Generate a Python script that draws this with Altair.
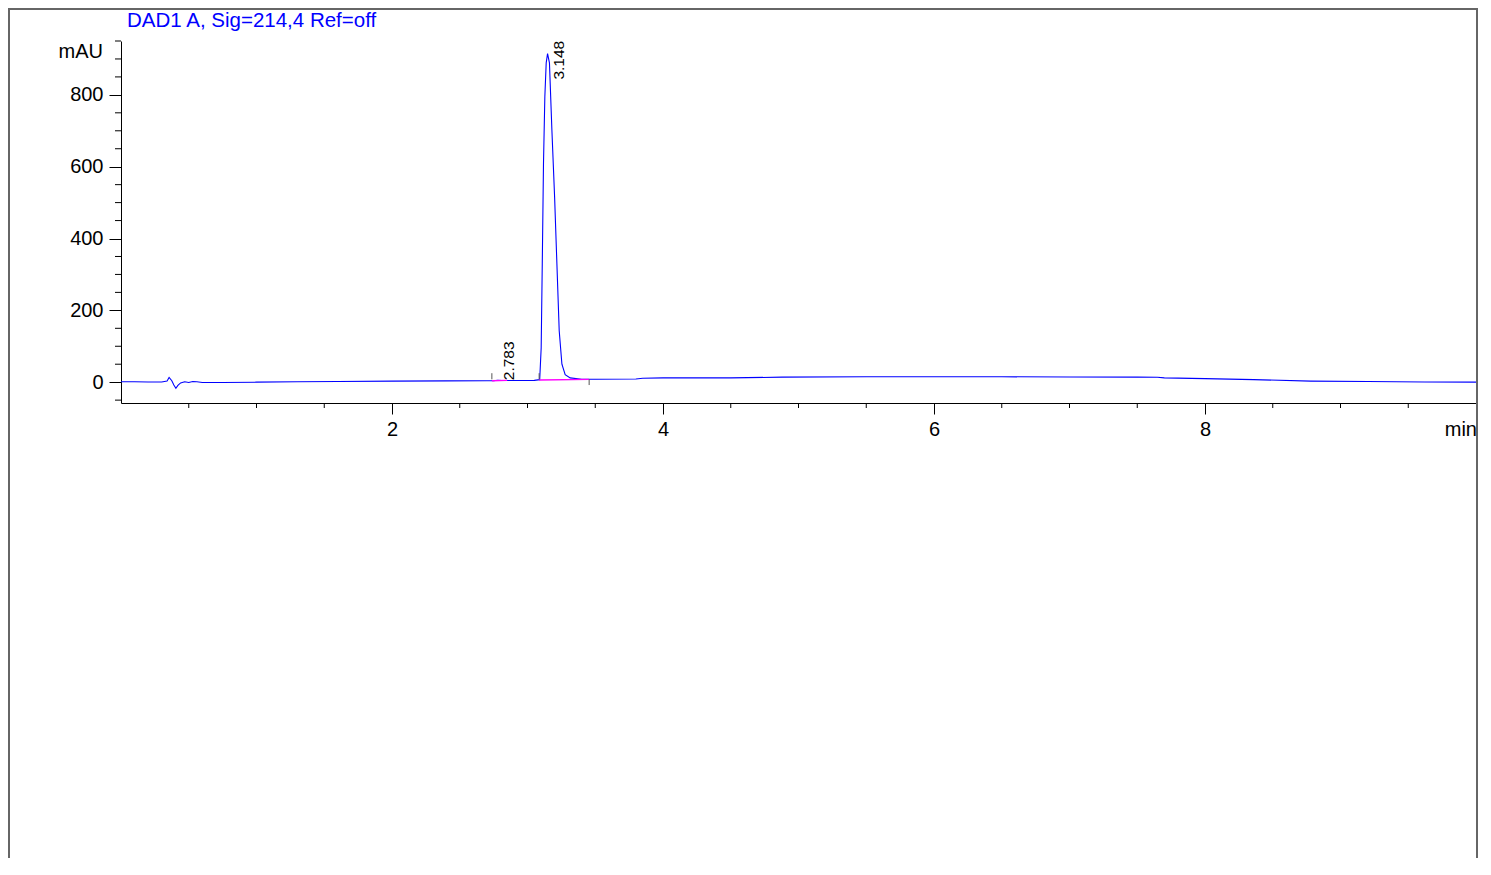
import altair as alt
import pandas as pd

# ---- chromatogram trace (min, mAU) ----
TIME = [0.00, 0.10, 0.20, 0.30, 0.34, 0.355, 0.375, 0.39, 0.405, 0.42, 0.44, 0.47,
        0.50, 0.53, 0.56, 0.60, 0.75, 1.00, 1.30, 1.60, 2.00, 2.40, 2.70, 2.75,
        2.78, 2.81, 2.90, 3.05, 3.09, 3.101, 3.109, 3.118, 3.128, 3.138, 3.148,
        3.162, 3.180, 3.200, 3.217, 3.234, 3.254, 3.278, 3.315, 3.40, 3.50, 3.80,
        3.85, 4.00, 4.50, 4.88, 5.50, 6.00, 6.50, 7.00, 7.50, 7.65, 7.70, 8.00,
        8.36, 8.78, 9.20, 9.62, 10.00]
SIGNAL = [1, 1, 0.5, 0.5, 3, 13, 4, -8, -17, -9, -2, 1,
          -1, 2, 1, -1, -1, 0, 1, 2, 3, 3.5, 4, 4,
          5.5, 4.5, 4.5, 5, 7, 96, 330, 609, 795, 889, 915,
          889, 702, 516, 329, 143, 50, 21, 12, 8, 8, 9,
          11, 12, 12, 14, 15, 15, 15, 14.5, 14, 13.5, 12, 10,
          7, 3, 2, 0.5, 0]

# ---- axes ----
X_LABEL_TICKS = [2, 4, 6, 8]
X_MINOR_TICKS = [0.5, 1, 1.5, 2.5, 3, 3.5, 4.5, 5, 5.5, 6.5, 7, 7.5, 8.5, 9, 9.5]
Y_LABEL_TICKS = [0, 200, 400, 600, 800]
Y_MINOR_TICKS = [-50, 50, 100, 150, 250, 300, 350, 450, 500, 550, 650, 700, 750, 850, 900, 950]
X_DOMAIN = [0, 10]
Y_DOMAIN = [-58, 950]

# ---- peak annotations ----
PEAK_RT = [2.783, 3.148]
PEAK_HEIGHT = [5.5, 915]
PEAK_TEXT = ["2.783", "3.148"]

# ---- integration events ----
EVENT_T = [2.737, 3.086, 3.455]
EVENT_LO = [8, 8, -8]
EVENT_HI = [25, 25, 8]
BASE_T0 = [2.737, 3.086]
BASE_T1 = [2.85, 3.455]
BASE_V0 = [4, 6]
BASE_V1 = [5, 8]

TITLE = "DAD1 A, Sig=214,4 Ref=off"
FONT = "Liberation Sans"
W, H = 1355, 362

xs = alt.Scale(domain=X_DOMAIN, nice=False, zero=False)
ys = alt.Scale(domain=Y_DOMAIN, nice=False, zero=False)
XAX = alt.Axis(values=X_LABEL_TICKS, tickSize=11, labelFontSize=20,
               labelPadding=5, title=None, format="d", grid=False,
               domainColor="black", tickColor="black", labelColor="black",
               labelFont=FONT, domainWidth=1, tickWidth=1)
YAX = alt.Axis(values=Y_LABEL_TICKS, tickSize=12, labelFontSize=20,
               labelPadding=6, title=None, format="d", grid=False,
               domainColor="black", tickColor="black", labelColor="black",
               labelFont=FONT, domainWidth=1, tickWidth=1)


def X(field):
    return alt.X(field, scale=xs, axis=XAX, title=None)


def Y(field):
    return alt.Y(field, scale=ys, axis=YAX, title=None)


trace = pd.DataFrame({"t": TIME, "v": SIGNAL})
one = alt.Data(values=[{}])

line = alt.Chart(trace).mark_line(color="#0000ff", strokeWidth=1.1).encode(
    x=X("t:Q"), y=Y("v:Q"))

x_minor = alt.Chart(pd.DataFrame({"t": X_MINOR_TICKS})).mark_rule(
    color="black", strokeWidth=1).encode(
    x=X("t:Q"), y=alt.value(H), y2=alt.value(H + 5))

y_minor = alt.Chart(pd.DataFrame({"v": Y_MINOR_TICKS})).mark_rule(
    color="black", strokeWidth=1).encode(
    y=Y("v:Q"), x=alt.value(0), x2=alt.value(-6))

base_df = pd.DataFrame({"t0": BASE_T0, "t1": BASE_T1, "v0": BASE_V0, "v1": BASE_V1})
baseline = alt.Chart(base_df).mark_rule(color="#ff00ff", strokeWidth=1.3).encode(
    x=X("t0:Q"), x2="t1:Q", y=Y("v0:Q"), y2="v1:Q")

ev_df = pd.DataFrame({"t": EVENT_T, "lo": EVENT_LO, "hi": EVENT_HI})
events = alt.Chart(ev_df).mark_rule(color="#555555", strokeWidth=1).encode(
    x=X("t:Q"), y=Y("lo:Q"), y2="hi:Q")

peaks = pd.DataFrame({"t": PEAK_RT, "v": PEAK_HEIGHT, "label": PEAK_TEXT})


def peak_label(i, along):
    return alt.Chart(peaks.iloc[[i]]).mark_text(
        angle=270, align="left", baseline="middle", fontSize=15.5, font=FONT,
        color="black", dx=along, dy=11).encode(
        x=X("t:Q"), y=Y("v:Q"), text="label:N")


lab_small = peak_label(0, 0)
lab_big = peak_label(1, -26)

title = alt.Chart(one).mark_text(
    text=TITLE, align="left", baseline="alphabetic", fontSize=20.5, font=FONT,
    color="#0000ff").encode(x=alt.value(6), y=alt.value(-14))

mau = alt.Chart(one).mark_text(
    text="mAU", align="right", baseline="middle", fontSize=20, font=FONT,
    color="black").encode(x=alt.value(-18), y=alt.value(11))

minlab = alt.Chart(one).mark_text(
    text="min", align="right", baseline="middle", fontSize=20, font=FONT,
    color="black").encode(x=alt.value(W + 1), y=alt.value(H + 27))

frame = alt.Chart(one).mark_rect(
    fillOpacity=0, stroke="#666666", strokeWidth=2).encode(
    x=alt.value(-112), x2=alt.value(W + 1), y=alt.value(-32), y2=alt.value(900))

chart = alt.layer(
    line, frame, x_minor, y_minor, baseline, events, lab_small, lab_big,
    title, mau, minlab
).properties(
    width=W, height=H,
    autosize=alt.AutoSizeParams(type="none"),
    padding={"left": 113, "top": 33, "right": 4, "bottom": 455},
    background="white",
).configure_view(stroke=None)

chart.save("out.html", embed_options={"renderer": "svg", "actions": False})
